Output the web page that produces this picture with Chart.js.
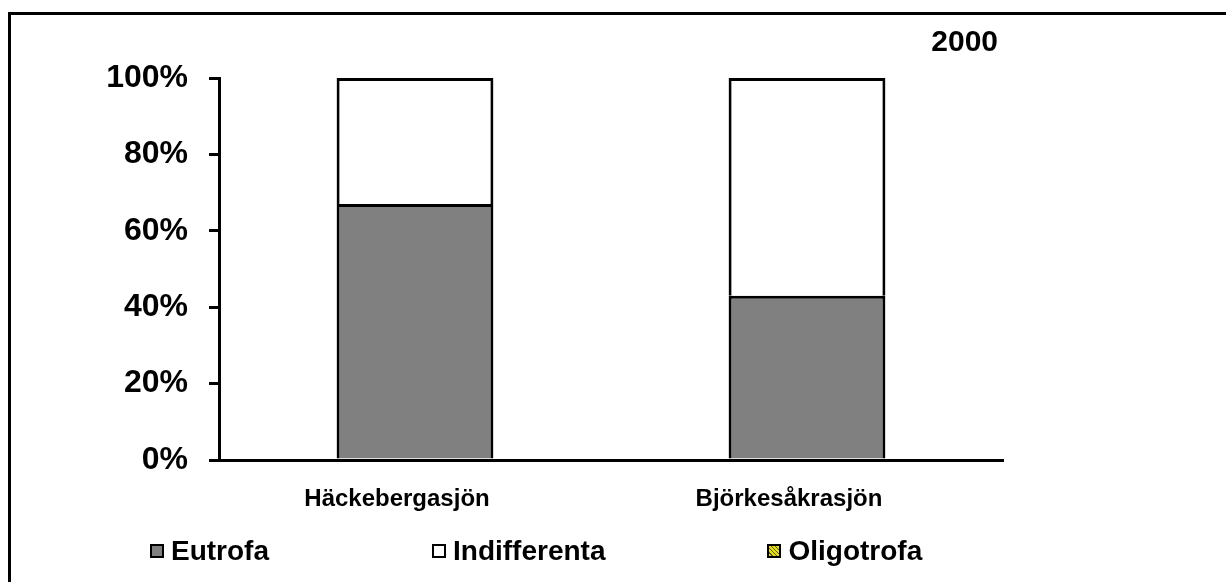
<!DOCTYPE html>
<html lang="sv">
<head>
    <meta charset="UTF-8">
    <title>2000</title>
    <script src="https://cdn.jsdelivr.net/npm/chart.js"></script>
    <style>
        body {
            margin: 0;
            background: #ffffff;
            overflow: hidden;
            font-family: Arial, "Liberation Sans", sans-serif;
        }
        .wrap {
            position: relative;
            width: 1226px;
            height: 582px;
        }
        /* outer frame, right/bottom edges are outside the picture */
        .frame {
            position: absolute;
            left: 8px;
            top: 12px;
            width: 2000px;
            height: 2000px;
            border-left: 3px solid #000;
            border-top: 3px solid #000;
        }
        canvas {
            position: absolute;
            left: 0;
            top: 0;
        }
        .legend {
            position: absolute;
            left: 150px;
            top: 534px;
            display: flex;
            font-weight: bold;
            font-size: 28px;
            line-height: 34px;
        }
        .legend span.item {
            display: flex;
            align-items: center;
        }
        .legend span.box {
            display: inline-block;
            width: 10px;
            height: 10px;
            border: 2px solid #000;
            margin-right: 7px;
        }
    </style>
</head>
<body>
<div class="wrap">
    <div class="frame"></div>
    <canvas id="chart" width="1226" height="582"></canvas>
    <div class="legend" id="legend"></div>
</div>

<script>
    const yearLabel = "2000";
    const lakes = ["Häckebergasjön", "Björkesåkrasjön"];
    const eutrofa = [67, 43];
    const indifferenta = [33, 57];
    const oligotrofa = [0, 0];
    const yTicks = [0, 20, 40, 60, 80, 100];

    // yellow hatch for Oligotrofa
    function hatch() {
        const c = document.createElement("canvas");
        c.width = 6; c.height = 6;
        const g = c.getContext("2d");
        g.fillStyle = "#e8e000";
        g.fillRect(0, 0, 6, 6);
        g.strokeStyle = "#333";
        g.lineWidth = 1.5;
        g.beginPath();
        g.moveTo(0, 6); g.lineTo(6, 0);
        g.moveTo(-3, 3); g.lineTo(3, -3);
        g.moveTo(3, 9); g.lineTo(9, 3);
        g.stroke();
        return g.createPattern(c, "repeat");
    }
    const hatchPattern = hatch();

    const yearTitle = {
        id: "yearTitle",
        afterDraw(chart) {
            const ctx = chart.ctx;
            ctx.save();
            ctx.font = "bold 30px Arial, 'Liberation Sans'";
            ctx.fillStyle = "#000";
            ctx.textAlign = "right";
            ctx.textBaseline = "middle";
            ctx.fillText(yearLabel, chart.chartArea.right - 5, 43);
            ctx.restore();
        }
    };

    const chart = new Chart(document.getElementById("chart"), {
        type: "bar",
        data: {
            labels: lakes,
            datasets: [
                { label: "Eutrofa", data: eutrofa, backgroundColor: "#808080" },
                { label: "Indifferenta", data: indifferenta, backgroundColor: "#ffffff" },
                { label: "Oligotrofa", data: oligotrofa, backgroundColor: hatchPattern }
            ]
        },
        options: {
            responsive: false,
            animation: false,
            layout: { padding: { left: 0, right: 223, top: 78, bottom: 62 } },
            datasets: {
                bar: {
                    borderColor: "#000",
                    borderWidth: 3,
                    borderSkipped: "start",
                    barPercentage: 0.4,
                    categoryPercentage: 1
                }
            },
            plugins: {
                legend: { display: false },
                tooltip: { enabled: false }
            },
            scales: {
                x: {
                    stacked: true,
                    grid: { display: false, drawTicks: false },
                    border: { display: true, color: "#000", width: 3 },
                    ticks: {
                        color: "#000",
                        padding: 25,
                        labelOffset: -18,
                        maxRotation: 0,
                        font: { family: "Arial, 'Liberation Sans'", size: 24, weight: "bold" }
                    },
                    afterFit(scale) { scale.height = 60; }
                },
                y: {
                    stacked: true,
                    min: 0,
                    max: 100,
                    afterBuildTicks(scale) { scale.ticks = yTicks.map(v => ({ value: v })); },
                    grid: {
                        drawOnChartArea: false,
                        drawTicks: true,
                        tickLength: 10,
                        color: "#000",
                        lineWidth: 3
                    },
                    border: { display: true, color: "#000", width: 3 },
                    ticks: {
                        color: "#000",
                        padding: 21,
                        callback: v => v + "%",
                        font: { family: "Arial, 'Liberation Sans'", size: 32, weight: "bold" }
                    },
                    afterFit(scale) { scale.width = 219; }
                }
            }
        },
        plugins: [yearTitle]
    });

    // legend built from the chart's datasets
    const legend = document.getElementById("legend");
    const gaps = [0, 163, 162];
    chart.data.datasets.forEach((ds, i) => {
        const item = document.createElement("span");
        item.className = "item";
        item.style.marginLeft = gaps[i] + "px";
        const box = document.createElement("span");
        box.className = "box";
        if (ds.label === "Oligotrofa") {
            box.style.background = "repeating-linear-gradient(45deg, #e8e000 0 2px, #555 2px 3px)";
        } else {
            box.style.background = ds.backgroundColor;
        }
        item.appendChild(box);
        item.appendChild(document.createTextNode(ds.label));
        legend.appendChild(item);
    });
</script>
</body>
</html>
